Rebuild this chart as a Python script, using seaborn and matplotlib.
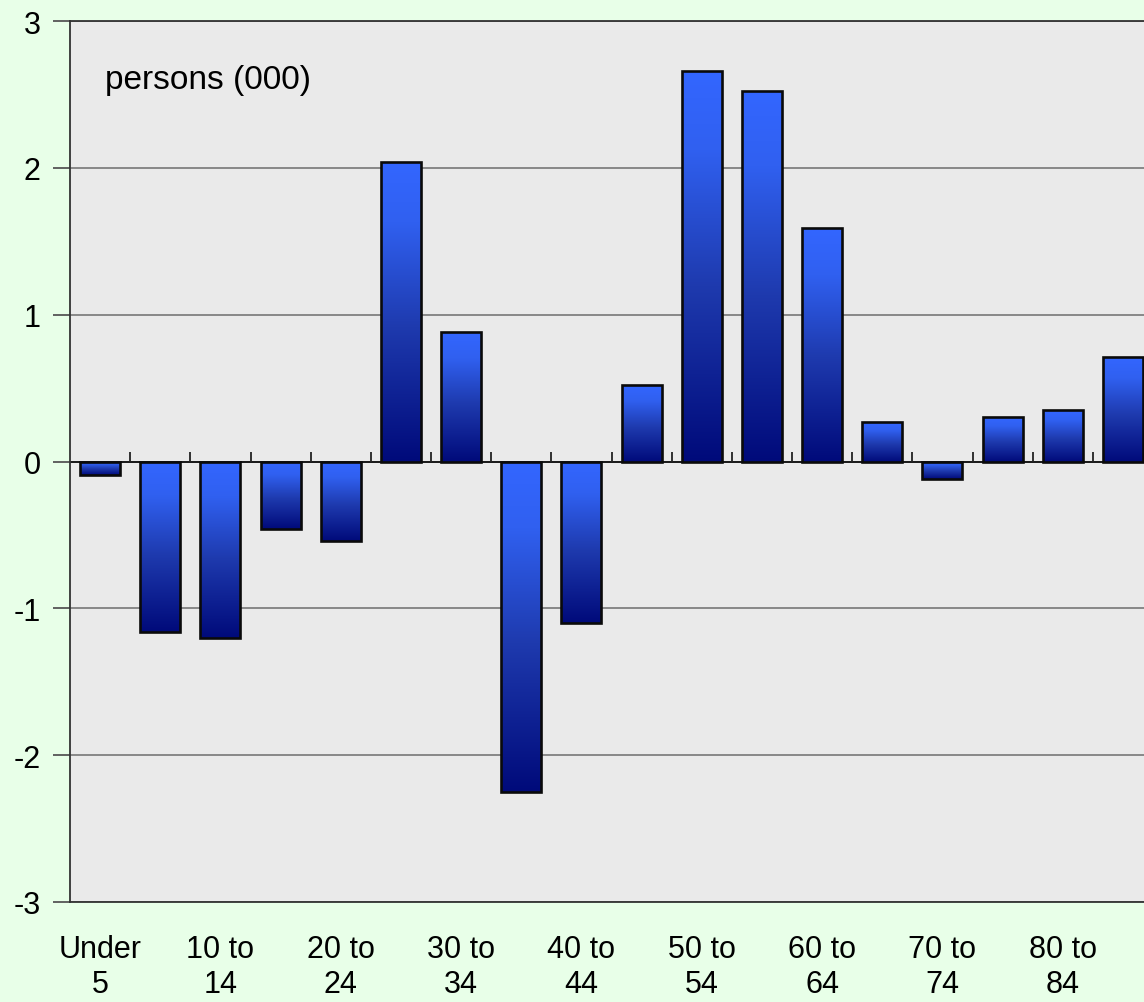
import numpy as np
import matplotlib
matplotlib.use("Agg")
import matplotlib.pyplot as plt
from matplotlib.colors import LinearSegmentedColormap
import seaborn as sns

# net change by age group, persons (000)
age_groups = ["Under 5", "5 to 9", "10 to 14", "15 to 19", "20 to 24", "25 to 29",
              "30 to 34", "35 to 39", "40 to 44", "45 to 49", "50 to 54", "55 to 59",
              "60 to 64", "65 to 69", "70 to 74", "75 to 79", "80 to 84", "85+"]
change = [-0.09, -1.16, -1.20, -0.46, -0.54, 2.04, 0.88, -2.25, -1.10, 0.52,
          2.66, 2.52, 1.59, 0.27, -0.12, 0.30, 0.35, 0.71]
tick_labels = ["Under\n5", "10 to\n14", "20 to\n24", "30 to\n34", "40 to\n44",
               "50 to\n54", "60 to\n64", "70 to\n74", "80 to\n84"]

sns.set_style("white")
plt.rcParams["font.family"] = ["Liberation Sans", "DejaVu Sans"]
plt.rcParams["text.color"] = "black"
plt.rcParams["xtick.labelcolor"] = "black"
plt.rcParams["ytick.labelcolor"] = "black"

fig = plt.figure(figsize=(11.44, 10.03), dpi=100, facecolor="#E8FFE8")
ax = fig.add_axes([70 / 1144, 100 / 1003, 1083 / 1144, 881 / 1003])
ax.set_facecolor("#EAEAEA")

sns.barplot(x=age_groups, y=change, width=0.667, ax=ax, color="#3366FF",
            edgecolor="#0A0A0A", linewidth=1.9, zorder=3)

# vertical gradient inside every bar: bright on top, navy at the bottom
cmap = LinearSegmentedColormap.from_list(
    "bar", [(0.0, "#000A7A"), (0.45, "#1E3AAE"), (0.8, "#3060F0"), (1.0, "#3366FF")])
grad = np.linspace(0, 1, 256).reshape(-1, 1)
for p in ax.patches:
    x0 = p.get_x()
    x1 = x0 + p.get_width()
    y0 = min(p.get_y(), p.get_y() + p.get_height())
    y1 = max(p.get_y(), p.get_y() + p.get_height())
    im = ax.imshow(grad, cmap=cmap, origin="lower", aspect="auto",
                   extent=[x0, x1, y0, y1], zorder=3, interpolation="bilinear")
    im.set_clip_path(p)
    p.set_facecolor("none")
    p.set_zorder(4)

ax.set_xlim(-0.5, len(age_groups) - 0.5)
ax.set_ylim(-3, 3)
ax.set_yticks(range(-3, 4))
ax.set_yticklabels([str(v) for v in range(-3, 4)])
ax.yaxis.grid(True, color="#808080", linewidth=1.3)
ax.set_axisbelow(True)

ax.set_xticks(range(0, len(age_groups), 2))
ax.set_xticklabels(tick_labels, linespacing=1.2)
ax.tick_params(axis="x", length=0, pad=23, labelsize=22)
ax.tick_params(axis="y", left=True, length=12, width=1.3, color="#555555",
               pad=9, labelsize=22, direction="out")
ax.set_xlabel("")

for side in ["left", "bottom", "top"]:
    ax.spines[side].set_color("#333333")
    ax.spines[side].set_linewidth(1.3)
ax.spines["right"].set_visible(False)

# zero line with small separator ticks between categories, pointing up
ax.axhline(0, color="#111111", linewidth=1.3, zorder=2)
bounds = np.arange(0.5, len(age_groups) - 0.5, 1)
ax.vlines(bounds, 0, 0.062, color="#222222", linewidth=1.3, zorder=2)

ax.text(0.032, 0.934, "persons (000)", transform=ax.transAxes, fontsize=24,
        va="center", ha="left")

fig.savefig("out.png", dpi=100, facecolor=fig.get_facecolor())
